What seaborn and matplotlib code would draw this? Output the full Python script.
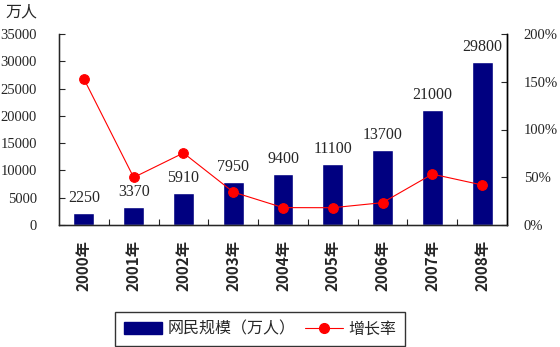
import matplotlib
matplotlib.use("Agg")
import matplotlib.pyplot as plt
import seaborn as sns
import pandas as pd
from matplotlib.patches import Patch
from matplotlib.lines import Line2D
from matplotlib.ticker import FixedLocator

# Internet users in China, 2000-2008
years = ["2000年", "2001年", "2002年", "2003年", "2004年", "2005年", "2006年", "2007年", "2008年"]
users = [2250, 3370, 5910, 7950, 9400, 11100, 13700, 21000, 29800]
growth = [153.0, 49.8, 75.4, 34.5, 18.2, 18.1, 23.4, 53.3, 41.9]
left_ticks = [0, 5000, 10000, 15000, 20000, 25000, 30000, 35000]
right_ticks = [0, 50, 100, 150, 200]

sns.set_style("white")
plt.rcParams["font.family"] = ["Liberation Serif", "Noto Sans CJK SC"]
CJK = ["Noto Sans CJK SC", "DejaVu Sans"]
NUM = ["Liberation Serif", "DejaVu Serif"]

df = pd.DataFrame({"year": years, "users": users, "growth": growth, "idx": range(len(years))})

fig = plt.figure(figsize=(5.6, 3.47), dpi=100)
ax = fig.add_axes([59 / 560, 1 - 225 / 347, (507 - 59) / 560, (225 - 34) / 347])

bar_color = "#000080"
sns.barplot(data=df, x="year", y="users", color=bar_color, width=0.42,
            saturation=1, ax=ax, zorder=2)
ax.set_xlim(-0.5, len(years) - 0.5)
ax.set_ylim(0, 35000)
ax.set_yticks(left_ticks)
ax.set_yticklabels([str(v) for v in left_ticks], family=NUM, fontsize=10.5)
ax.set_xlabel("")
ax.set_ylabel("")

# value labels above bars
for i, v in enumerate(users):
    ax.annotate(str(v), (i, v), xytext=(0, 5), textcoords="offset points",
                ha="center", va="bottom", family=NUM, fontsize=11.5)

# category labels, rotated
ax.set_xticks(range(len(years)))
ax.set_xticklabels(years, rotation=90, family=CJK, fontsize=11, fontweight="bold")
ax.tick_params(axis="x", which="major", length=0, pad=11)
ax.xaxis.set_minor_locator(FixedLocator([i + 0.5 for i in range(len(years) - 1)]))
ax.tick_params(axis="x", which="minor", direction="in", length=4, width=0.8, bottom=True)
ax.tick_params(axis="y", direction="in", length=4, width=0.8, left=True, pad=16)

for side in ["left", "bottom", "right", "top"]:
    ax.spines[side].set_color("black")
    ax.spines[side].set_linewidth(1.0)
ax.spines["top"].set_visible(False)

# growth rate on secondary axis
ax2 = ax.twinx()
sns.lineplot(data=df, x="idx", y="growth", color="red", linewidth=0.8,
             marker="o", markersize=7, markeredgecolor="red", ax=ax2, zorder=3)
ax2.set_ylim(0, 200)
ax2.set_xlim(-0.5, len(years) - 0.5)
ax2.set_yticks(right_ticks)
ax2.set_yticklabels([f"{v}%" for v in right_ticks], family=NUM, fontsize=10.5)
ax2.set_ylabel("")
ax2.tick_params(axis="y", direction="in", length=4, width=0.8, right=True, pad=12)
ax2.spines["top"].set_visible(False)
ax2.spines["right"].set_color("black")
ax2.spines["right"].set_linewidth(1.0)

fig.text(5 / 560, 1 - 12 / 347, "万人", family=CJK, fontsize=11.5, va="center", ha="left")

handles = [Patch(facecolor=bar_color, edgecolor=bar_color),
           Line2D([0], [0], color="red", linewidth=0.8, marker="o", markersize=7)]
leg = fig.legend(handles, ["网民规模（万人）", "增长率"], loc="center",
                 bbox_to_anchor=(260 / 560, 1 - 329 / 347), ncol=2,
                 prop={"family": CJK, "size": 11.5}, frameon=True, fancybox=False,
                 edgecolor="black", handlelength=2.4, handletextpad=0.3,
                 columnspacing=0.6, borderpad=0.55)
leg.get_frame().set_linewidth(1.0)

fig.savefig("out.png", dpi=100)
